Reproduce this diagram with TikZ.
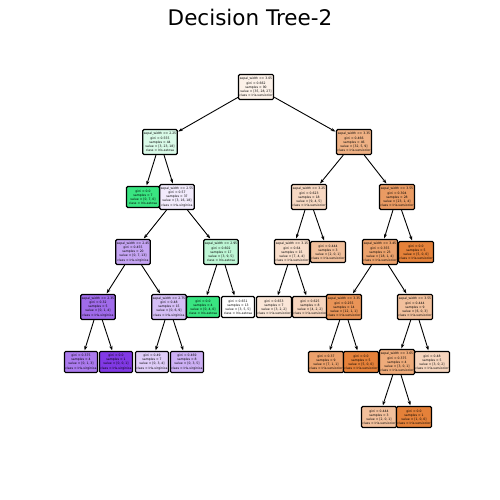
\documentclass[tikz,border=0pt]{standalone}
\usepackage{fontspec}
\setmainfont{DejaVu Sans}
\usetikzlibrary{arrows.meta}
% sklearn class colours
\definecolor{clsor}{RGB}{229,129,57}
\definecolor{clsgr}{RGB}{57,229,129}
\definecolor{clspu}{RGB}{129,57,229}
\tikzset{
	box/.style={draw=black, line width=1.2pt, rounded corners=1.2pt, align=center,
		inner sep=1pt, font=\fontsize{3.1}{4.1}\selectfont},
	split/.style={box, minimum width=34, minimum height=25},
	leaf/.style={box, minimum width=33, minimum height=21},
	arr/.style={-{Stealth[length=4.5pt,width=3.2pt]}, line width=0.9pt, shorten >=0.5pt}
}
\begin{document}
\begin{tikzpicture}[x=1pt, y=-1pt]
	\useasboundingbox (0,0) rectangle (500,500);
	\node[anchor=base, font=\fontsize{21.5}{24}\selectfont] (title) at (250,26) {Decision Tree-2};
	% level 0 and 1
	\node[split, fill=clsor!11!white] (root) at (256,87) {sepal\_width <= 3.05\\gini = 0.662\\samples = 90\\value = [35, 28, 27]\\class = Iris-versicolor};
	\node[split, fill=clsgr!19!white] (l) at (160,142) {sepal\_width <= 2.25\\gini = 0.555\\samples = 44\\value = [3, 23, 18]\\class = Iris-setosa};
	\node[split, fill=clsor!62!white] (r) at (354,142) {sepal\_width <= 3.35\\gini = 0.466\\samples = 46\\value = [32, 5, 9]\\class = Iris-versicolor};
	% level 2
	\node[leaf, fill=clsgr] (ll) at (143,197) {gini = 0.0\\samples = 7\\value = [0, 7, 0]\\class = Iris-setosa};
	\node[split, fill=clspu!10!white] (lr) at (177,197) {sepal\_width <= 2.55\\gini = 0.57\\samples = 37\\value = [3, 16, 18]\\class = Iris-virginica};
	\node[split, fill=clsor!31!white] (rl) at (309,197) {sepal\_width <= 3.25\\gini = 0.623\\samples = 18\\value = [9, 4, 5]\\class = Iris-versicolor};
	\node[split, fill=clsor!79!white] (rr) at (397,197) {sepal\_width <= 3.55\\gini = 0.304\\samples = 28\\value = [23, 1, 4]\\class = Iris-versicolor};
	% level 3
	\node[split, fill=clspu!46!white] (lrl) at (133,252) {sepal\_width <= 2.45\\gini = 0.455\\samples = 20\\value = [0, 7, 13]\\class = Iris-virginica};
	\node[split, fill=clsgr!33!white] (lrr) at (221,252) {sepal\_width <= 2.95\\gini = 0.602\\samples = 17\\value = [3, 9, 5]\\class = Iris-setosa};
	\node[split, fill=clsor!27!white] (rll) at (292,252) {sepal\_width <= 3.15\\gini = 0.64\\samples = 15\\value = [7, 4, 4]\\class = Iris-versicolor};
	\node[leaf, fill=clsor!50!white] (rlr) at (328,252) {gini = 0.444\\samples = 3\\value = [2, 0, 1]\\class = Iris-versicolor};
	\node[split, fill=clsor!74!white] (rrl) at (380,252) {sepal\_width <= 3.45\\gini = 0.355\\samples = 23\\value = [18, 1, 4]\\class = Iris-versicolor};
	\node[leaf, fill=clsor] (rrr) at (416,252) {gini = 0.0\\samples = 5\\value = [5, 0, 0]\\class = Iris-versicolor};
	% level 4
	\node[split, fill=clspu!75!white] (lrll) at (98,307) {sepal\_width <= 2.35\\gini = 0.32\\samples = 5\\value = [0, 1, 4]\\class = Iris-virginica};
	\node[split, fill=clspu!33!white] (lrlr) at (169,307) {sepal\_width <= 2.75\\gini = 0.48\\samples = 15\\value = [0, 6, 9]\\class = Iris-virginica};
	\node[leaf, fill=clsgr] (lrrl) at (203,307) {gini = 0.0\\samples = 4\\value = [0, 4, 0]\\class = Iris-setosa};
	\node[leaf, fill=white] (lrrr) at (238,307) {gini = 0.651\\samples = 13\\value = [3, 5, 5]\\class = Iris-setosa};
	\node[leaf, fill=clsor!20!white] (rlll) at (274,307) {gini = 0.653\\samples = 7\\value = [3, 2, 2]\\class = Iris-versicolor};
	\node[leaf, fill=clsor!33!white] (rllr) at (310,307) {gini = 0.625\\samples = 8\\value = [4, 2, 2]\\class = Iris-versicolor};
	\node[split, fill=clsor!85!white] (rrll) at (344,307) {sepal\_width <= 3.35\\gini = 0.255\\samples = 14\\value = [12, 1, 1]\\class = Iris-versicolor};
	\node[split, fill=clsor!50!white] (rrlr) at (415,307) {sepal\_width <= 3.55\\gini = 0.444\\samples = 9\\value = [6, 0, 3]\\class = Iris-versicolor};
	% level 5
	\node[leaf, fill=clspu!67!white] (lrlll) at (81,362) {gini = 0.375\\samples = 4\\value = [0, 1, 3]\\class = Iris-virginica};
	\node[leaf, fill=clspu] (lrllr) at (116,362) {gini = 0.0\\samples = 1\\value = [0, 0, 1]\\class = Iris-virginica};
	\node[leaf, fill=clspu!25!white] (lrlrl) at (152,362) {gini = 0.49\\samples = 7\\value = [0, 3, 4]\\class = Iris-virginica};
	\node[leaf, fill=clspu!40!white] (lrlrr) at (187,362) {gini = 0.469\\samples = 8\\value = [0, 3, 5]\\class = Iris-virginica};
	\node[leaf, fill=clsor!75!white] (rrlll) at (326,362) {gini = 0.37\\samples = 9\\value = [7, 1, 1]\\class = Iris-versicolor};
	\node[leaf, fill=clsor] (rrllr) at (361,362) {gini = 0.0\\samples = 5\\value = [5, 0, 0]\\class = Iris-versicolor};
	\node[split, fill=clsor!67!white] (rrlrl) at (397,362) {sepal\_width <= 3.65\\gini = 0.375\\samples = 4\\value = [3, 0, 1]\\class = Iris-versicolor};
	\node[leaf, fill=clsor!33!white] (rrlrr) at (432,362) {gini = 0.48\\samples = 5\\value = [3, 0, 2]\\class = Iris-versicolor};
	% level 6
	\node[leaf, fill=clsor!50!white] (rrlrll) at (379,417) {gini = 0.444\\samples = 3\\value = [2, 0, 1]\\class = Iris-versicolor};
	\node[leaf, fill=clsor] (rrlrlr) at (414,417) {gini = 0.0\\samples = 1\\value = [1, 0, 0]\\class = Iris-versicolor};
	% edges
	\foreach \p/\c in {root/l, root/r, l/ll, l/lr, r/rl, r/rr, lr/lrl, lr/lrr, rl/rll, rl/rlr,
		rr/rrl, rr/rrr, lrl/lrll, lrl/lrlr, lrr/lrrl, lrr/lrrr, rll/rlll, rll/rllr,
		rrl/rrll, rrl/rrlr, lrll/lrlll, lrll/lrllr, lrlr/lrlrl, lrlr/lrlrr,
		rrll/rrlll, rrll/rrllr, rrlr/rrlrl, rrlr/rrlrr, rrlrl/rrlrll, rrlrl/rrlrlr}{
		\draw[arr] (\p) -- (\c);
	}
\end{tikzpicture}
\end{document}
